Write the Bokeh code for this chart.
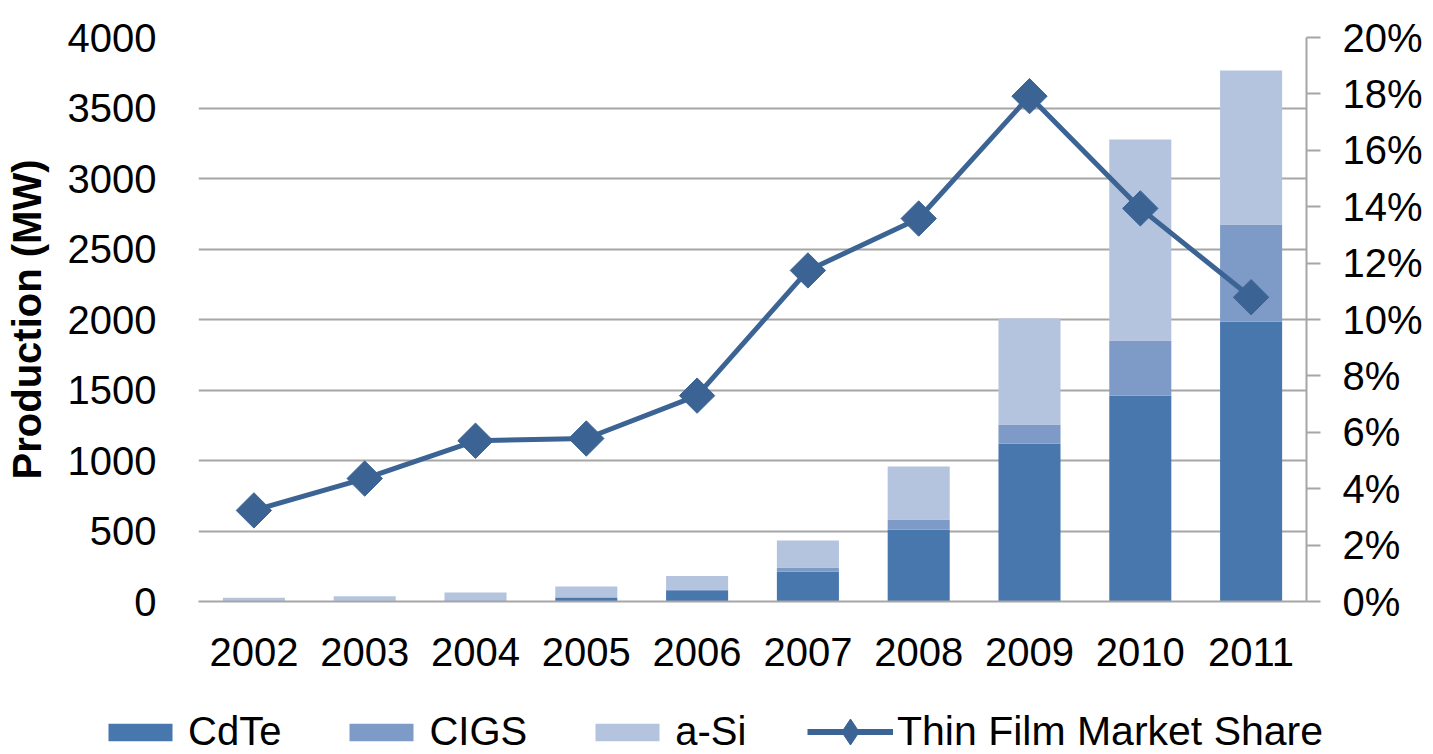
from bokeh.plotting import figure
from bokeh.layouts import column
from bokeh.models import (Range1d, LinearAxis, FixedTicker, PrintfTickFormatter,
                          BasicTickFormatter, Legend, LegendItem, ColumnDataSource)
from bokeh.embed import file_html
from bokeh.resources import INLINE
import math

years = [2002, 2003, 2004, 2005, 2006, 2007, 2008, 2009, 2010, 2011]
cdte = [2, 3, 6, 25, 75, 213, 511, 1121, 1461, 1986]
cigs = [1, 2, 3, 5, 10, 28, 71, 134, 390, 688]
asi = [23, 33, 55, 76, 95, 192, 375, 752, 1426, 1092]
share = [3.23, 4.36, 5.70, 5.78, 7.30, 11.74, 13.58, 17.92, 13.94, 10.79]

series = ["CdTe", "CIGS", "a-Si"]
colors = ["#4877AE", "#7E9BC7", "#B4C4DE"]
line_color = "#3B6494"
grid_color = "#A6A6A6"
FONT = "Liberation Sans"
line_label = "Thin Film Market Share"

data = dict(year=years, CdTe=cdte, CIGS=cigs)
data["a-Si"] = asi
data["share"] = share

W = 1425
H_MAIN = 690
H_LEG = 64

p = figure(width=W, height=H_MAIN, output_backend="svg", toolbar_location=None,
           x_range=Range1d(2001.5, 2011.5), y_range=Range1d(0, 4000),
           min_border_left=198, min_border_right=W - 1311, min_border_top=37,
           min_border_bottom=H_MAIN - 601)
p.frame_align = False
p.outline_line_color = None
p.background_fill_color = "white"
p.border_fill_color = "white"

p.extra_y_ranges = {"share": Range1d(0, 20)}

bars = p.vbar_stack(series, x="year", width=0.56, source=data,
                    color=colors, line_color=None)

ln = p.line(x="year", y="share", source=data, y_range_name="share",
            line_color=line_color, line_width=5)
mk = p.scatter(x="year", y="share", source=data, y_range_name="share",
               marker="square", angle=math.pi / 4, size=25,
               fill_color=line_color, line_color=line_color)

# left axis
yax = p.yaxis[0]
yax.ticker = FixedTicker(ticks=list(range(0, 4001, 500)))
yax.formatter = BasicTickFormatter(use_scientific=False)
yax.axis_line_color = None
yax.major_tick_line_color = None
yax.minor_tick_line_color = None
yax.major_label_text_font = FONT
yax.major_label_text_font_size = "40px"
yax.major_label_text_color = "#000000"
yax.major_label_standoff = 36
yax.axis_label = "Production (MW)"
yax.axis_label_text_font = FONT
yax.axis_label_text_font_style = "bold"
yax.axis_label_text_font_size = "40px"
yax.axis_label_text_color = "#000000"
yax.axis_label_standoff = 16

# right axis
rax = LinearAxis(y_range_name="share", ticker=FixedTicker(ticks=list(range(0, 21, 2))),
                 formatter=PrintfTickFormatter(format="%d%%"))
rax.axis_line_color = grid_color
rax.axis_line_width = 2
rax.major_tick_line_color = grid_color
rax.major_tick_line_width = 2
rax.major_tick_out = 14
rax.major_tick_in = 0
rax.minor_tick_line_color = None
rax.major_label_text_font = FONT
rax.major_label_text_font_size = "40px"
rax.major_label_text_color = "#000000"
rax.major_label_standoff = 22
p.add_layout(rax, "right")

# x axis
xax = p.xaxis[0]
xax.ticker = FixedTicker(ticks=years)
xax.formatter = BasicTickFormatter(use_scientific=False)
xax.axis_line_color = grid_color
xax.axis_line_width = 2
xax.major_tick_line_color = None
xax.minor_tick_line_color = None
xax.major_label_text_font = FONT
xax.major_label_text_font_size = "40px"
xax.major_label_text_color = "#000000"
xax.major_label_standoff = 30

p.xgrid.grid_line_color = None
p.ygrid.grid_line_color = grid_color
p.ygrid.grid_line_width = 2
p.ygrid.ticker = FixedTicker(ticks=list(range(500, 4001, 500)))

# legend strip (separate figure below, same styles; its dummy marks lie off-range)
lf = figure(width=W, height=H_LEG, output_backend="svg", toolbar_location=None,
            x_range=Range1d(0, 1), y_range=Range1d(0, 1),
            x_axis_location=None, y_axis_location=None,
            min_border=0)
lf.frame_align = False
lf.outline_line_color = None
lf.grid.grid_line_color = None
dummy = ColumnDataSource(dict(x=[-10, -9], y=[-10, -10], top=[-10, -10]))
bar_items = []
for s, c in zip(series, colors):
    r = lf.vbar(x="x", top="top", width=0.5, source=dummy, fill_color=c, line_color=None)
    bar_items.append(LegendItem(label=s, renderers=[r]))
lr = lf.line(x="x", y="y", source=dummy, line_color=line_color, line_width=6)
ls = lf.scatter(x="x", y="y", source=dummy, marker="diamond",
                size=26, fill_color=line_color, line_color=line_color)

legend1 = Legend(items=bar_items, orientation="horizontal", location=(100, 0),
                 glyph_width=80, glyph_height=22, label_standoff=8, spacing=60,
                 padding=0, margin=0, border_line_color=None,
                 background_fill_alpha=0,
                 label_text_font=FONT, label_text_font_size="40px",
                 label_text_color="#000000")
legend2 = Legend(items=[LegendItem(label=line_label, renderers=[lr, ls])],
                 orientation="horizontal", location=(807, -10),
                 glyph_width=86, glyph_height=65, label_standoff=4,
                 padding=0, margin=0, border_line_color=None,
                 background_fill_alpha=0,
                 label_text_font=FONT, label_text_font_size="41px",
                 label_text_color="#000000")
lf.add_layout(legend1, "center")
lf.add_layout(legend2, "center")

layout = column(p, lf, spacing=0)
open("out.html", "w").write(file_html(layout, INLINE))
